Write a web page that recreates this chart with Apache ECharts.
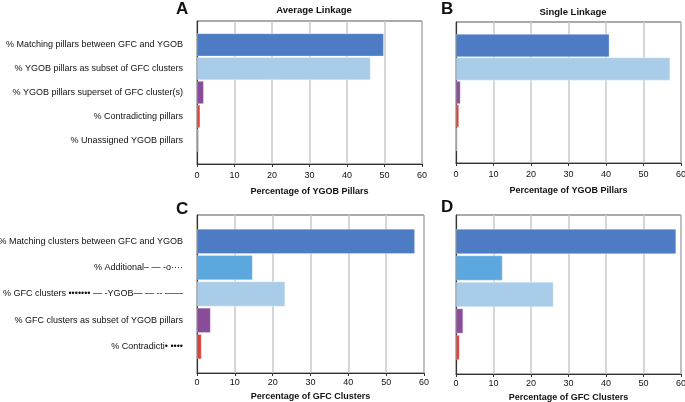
<!DOCTYPE html>
<html><head><meta charset="utf-8">
<script src="https://cdn.jsdelivr.net/npm/echarts@6/dist/echarts.min.js"></script>
<style>html,body{margin:0;padding:0;background:#fff}#c{width:685px;height:402px}</style>
</head><body><div id="c"></div>
<script>
const pillarCats = ['% Matching pillars between GFC and YGOB','% YGOB pillars as subset of GFC clusters','% YGOB pillars superset of GFC cluster(s)','% Contradicting pillars','% Unassigned YGOB pillars'];
const clusterCats = ['% Matching clusters between GFC and YGOB','% Additional\u2013 \u2014 -o\u00b7\u00b7\u00b7\u00b7','% GFC clusters \u2022\u2022\u2022\u2022\u2022\u2022\u2022 \u2014 -YGOB\u2014 \u2014 -- \u2014\u2014','% GFC clusters as subset of YGOB pillars','% Contradicti\u2022 \u2022\u2022\u2022\u2022'];
const avgPillars = [49.8, 46.3, 1.8, 0.85, 0.45];
const singlePillars = [40.9, 57.1, 1.2, 0.8, 0.35];
const avgClusters = [57.6, 14.7, 23.3, 3.6, 1.2];
const singleClusters = [58.7, 12.4, 26.0, 1.9, 0.95];
const xTicks = [0, 10, 20, 30, 40, 50, 60];
const pillarColors = ['#4d7cc4','#a9cde8','#8a4c98','#d8423c','#8a8a8a'];
const clusterColors = ['#4d7cc4','#5ba7de','#a9cde8','#8a4c98','#d8423c'];

const font = 'Liberation Sans, Arial, sans-serif';
function padCats(c){ return [''].concat(c).concat(['']); }
function padData(v, colors){
  return ['-'].concat(v.map((x,i)=>({value:x,itemStyle:{color:colors[i]}}))).concat(['-']);
}
const grids = [
  {left:197, width:225, top:21, height:143},
  {left:456, width:225, top:22, height:141},
  {left:197, width:227, top:215, height:158},
  {left:456, width:225, top:215, height:159}
];
const names = ['Percentage of YGOB Pillars','Percentage of YGOB Pillars','Percentage of GFC Clusters','Percentage of GFC Clusters'];
const cats = [pillarCats, pillarCats, clusterCats, clusterCats];
const vals = [avgPillars, singlePillars, avgClusters, singleClusters];
const cols = [pillarColors, pillarColors, clusterColors, clusterColors];
const barW = [23, 23, 25, 25];
const nameGaps = [23, 23, 19, 19];
const labelMargins = [7, 7, 5, 5];

const option = {
  animation:false,
  title:[
    {text:'A', left:171, top:-4, textStyle:{fontSize:17, fontWeight:'bold', fontFamily:font, color:'#111'}},
    {text:'Average Linkage', left:309, top:0, textAlign:'center', textStyle:{fontSize:9.5, fontWeight:'bold', fontFamily:font, color:'#111'}},
    {text:'B', left:436, top:-4, textStyle:{fontSize:17, fontWeight:'bold', fontFamily:font, color:'#111'}},
    {text:'Single Linkage', left:568, top:2, textAlign:'center', textStyle:{fontSize:9.5, fontWeight:'bold', fontFamily:font, color:'#111'}},
    {text:'C', left:171, top:196, textStyle:{fontSize:17, fontWeight:'bold', fontFamily:font, color:'#111'}},
    {text:'D', left:436, top:194, textStyle:{fontSize:17, fontWeight:'bold', fontFamily:font, color:'#111'}}
  ],
  grid: grids.map(g=>Object.assign({show:true, borderColor:'#555', borderWidth:1, backgroundColor:'transparent', containLabel:false, outerBoundsMode:'none'}, g)),
  xAxis: grids.map((g,i)=>({
    gridIndex:i, type:'value', min:xTicks[0], max:xTicks[xTicks.length-1], interval:10,
    name:names[i], nameLocation:'middle', nameGap:nameGaps[i],
    nameTextStyle:{fontSize:9, fontWeight:'bold', fontFamily:font, color:'#111'},
    axisLine:{show:true, lineStyle:{color:'#333', width:1.2}},
    axisTick:{show:true, length:3, inside:false, lineStyle:{color:'#333'}},
    axisLabel:{fontSize:9, fontFamily:font, color:'#111', margin:labelMargins[i], showMinLabel:true, showMaxLabel:true},
    splitLine:{show:true, lineStyle:{color:'#c8c8c8', width:1.5}}
  })),
  yAxis: grids.map((g,i)=>({
    gridIndex:i, type:'category', data:padCats(cats[i]), inverse:true, boundaryGap:false,
    axisLine:{show:true, lineStyle:{color:'#333', width:1.2}},
    axisTick:{show:false},
    splitLine:{show:false},
    axisLabel:{show: i===0 || i===2, interval:0, fontSize:9, fontFamily:font, color:'#111', margin:14}
  })),
  series: grids.map((g,i)=>({
    type:'bar', xAxisIndex:i, yAxisIndex:i, barWidth:barW[i],
    data: padData(vals[i], cols[i]),
    itemStyle:{borderColor:'rgba(255,255,255,0.5)', borderWidth:0.6}
  }))
};
const chart = echarts.init(document.getElementById('c'), null, {renderer:'canvas'});
chart.setOption(option);
</script>
</body></html>
